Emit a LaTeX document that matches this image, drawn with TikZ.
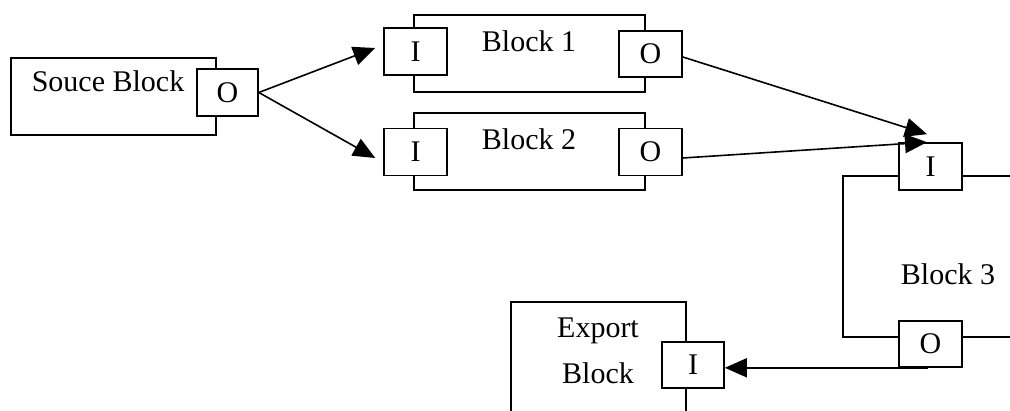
\documentclass[tikz,border=0pt]{standalone}
\usepackage{fontspec}
\setmainfont{Liberation Serif}
\usetikzlibrary{arrows.meta,calc}

\begin{document}
\begin{tikzpicture}[x=1pt,y=1pt,
  font=\fontsize{30}{36}\selectfont,
  edge/.style={draw=black,line width=1.6pt},
  outerbox/.style={edge,rectangle,inner sep=0pt,fill=white},
  port/.style={edge,rectangle,inner sep=0pt,fill=white,minimum width=63pt,minimum height=47pt},
  label/.style={inner sep=0pt,anchor=base},
  flow/.style={line width=1.6pt,-{Triangle[length=22pt,width=19pt]}}
]
\clip (0,0) rectangle (1010,410);
\fill[white] (0,0) rectangle (1010,410);

% Source block
\node[outerbox,minimum width=205pt,minimum height=77pt] (src) at (113.5,313.5) {};
\node[label] (srct) at (108,318.5) {Souce Block};
\node[port,minimum width=61pt] (srcO) at (227.5,317.5) {O};

% Block 1
\node[outerbox,minimum width=231pt,minimum height=77pt] (b1) at (529.5,356.5) {};
\node[label] (b1t) at (529,358) {Block 1};
\node[port] (b1I) at (415.5,358.5) {I};
\node[port,minimum height=46pt] (b1O) at (650.5,356) {O};

% Block 2
\node[outerbox,minimum width=231pt,minimum height=77pt] (b2) at (529.5,258.5) {};
\node[label] (b2t) at (529,260) {Block 2};
\node[port] (b2I) at (415.5,258) {I};
\node[port] (b2O) at (650.5,258) {O};

% Block 3 (runs off the right edge)
\draw[edge] (1020,234) -- (843,234) -- (843,73) -- (1020,73);
\node[label] (b3t) at (948,125) {Block 3};
\node[port] (b3I) at (930.5,243.5) {I};
\node[port,minimum height=46pt] (b3O) at (930.5,66) {O};

% Export block (runs off the bottom edge)
\draw[edge] (686,-10) -- (686,108) -- (511,108) -- (511,-10);
\node[label] (expt) at (598,72) {Export};
\node[label] (expt2) at (598,27) {Block};
\node[port,minimum width=62pt,minimum height=46pt] (expI) at (693,45) {I};

% Connections
\coordinate (t1) at ($(b1I.west)+(-8,3.5)$);
\coordinate (t2) at ($(b2I.west)+(-8,-6)$);
\coordinate (t3) at ($(b3I.north)+(-3.5,8)$);
\coordinate (t4) at ($(b3I.north)+(-3.5,0)$);
\draw[flow] (srcO.east) -- (t1);
\draw[flow] (srcO.east) -- (t2);
\draw[flow] ($(b1O.east)+(0,-3)$) -- (t3);
\draw[flow] ($(b2O.east)+(0,-6)$) -- (t4);
\draw[flow] ($(b3O.south)+(-3,0)$) -- (expI.east |- b3O.south);
\end{tikzpicture}
\end{document}
